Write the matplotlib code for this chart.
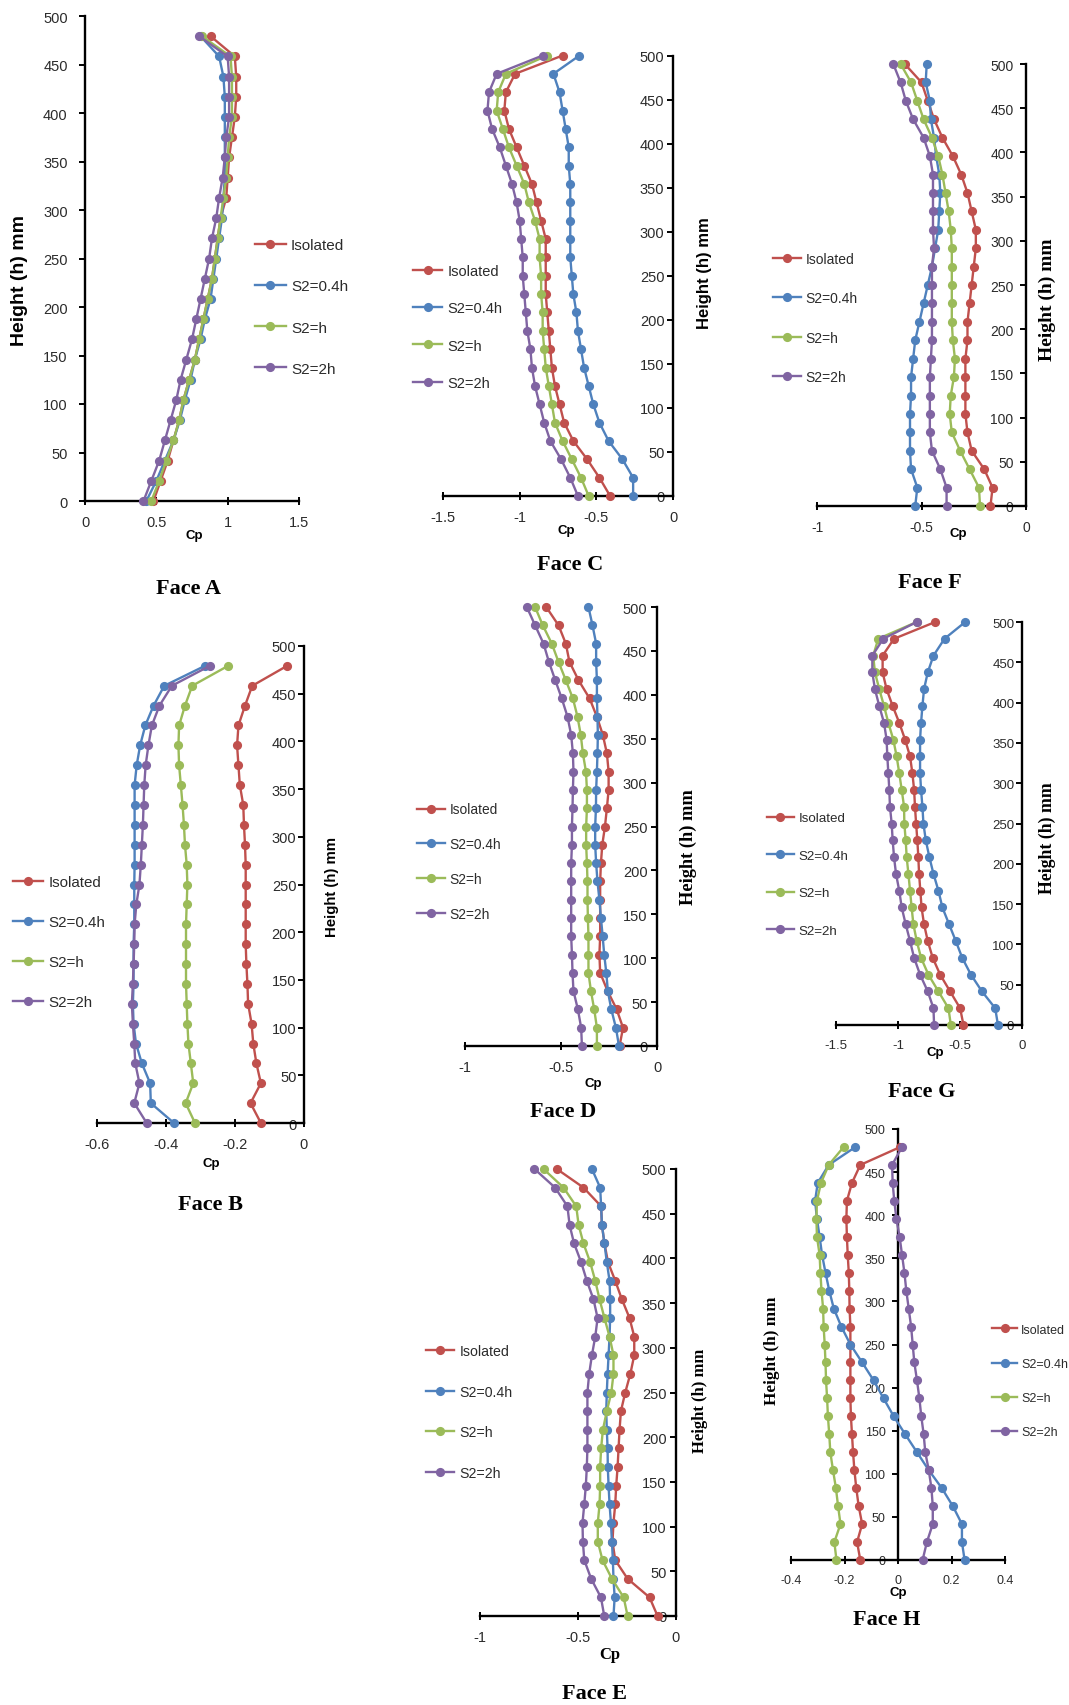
import matplotlib.pyplot as plt

plt.rcParams['font.family'] = 'Liberation Sans'
plt.rcParams['axes.unicode_minus'] = False

# tap heights (mm) along the model, 25 levels
heights = [0, 20.8, 41.7, 62.5, 83.3, 104.2, 125, 145.8, 166.7, 187.5,
           208.3, 229.2, 250, 270.8, 291.7, 312.5, 333.3, 354.2, 375,
           395.8, 416.7, 437.5, 458.3, 479.2, 500]
series_names = ['Isolated', 'S2=0.4h', 'S2=h', 'S2=2h']
colors = ['#C0504D', '#4F81BD', '#9BBB59', '#8064A2']

# Face A (24 levels)
a_iso = [0.48, 0.53, 0.58, 0.62, 0.66, 0.69, 0.73, 0.77, 0.80, 0.83, 0.86, 0.89,
         0.91, 0.93, 0.95, 0.99, 1.0, 1.01, 1.03, 1.05, 1.06, 1.06, 1.05, 0.88]
a_s04 = [0.43, 0.50, 0.56, 0.62, 0.665, 0.70, 0.74, 0.77, 0.81, 0.84, 0.88, 0.90,
         0.92, 0.94, 0.96, 0.97, 0.98, 0.98, 0.98, 0.98, 0.98, 0.97, 0.94, 0.81]
a_s1 = [0.465, 0.52, 0.57, 0.62, 0.66, 0.69, 0.73, 0.77, 0.80, 0.83, 0.86, 0.89,
        0.91, 0.93, 0.95, 0.97, 0.99, 1.0, 1.01, 1.03, 1.03, 1.03, 1.02, 0.82]
a_s2 = [0.41, 0.465, 0.52, 0.56, 0.60, 0.64, 0.67, 0.71, 0.75, 0.78, 0.81, 0.84,
        0.87, 0.89, 0.92, 0.94, 0.965, 0.98, 0.99, 1.01, 1.01, 1.01, 1.0, 0.80]

# Face C
c_iso = [-0.41, -0.48, -0.56, -0.65, -0.71, -0.74, -0.77, -0.79, -0.80, -0.81, -0.82, -0.83, -0.83,
         -0.83, -0.83, -0.86, -0.89, -0.92, -0.97, -1.02, -1.07, -1.10, -1.09, -1.03, -0.72]
c_s04 = [-0.26, -0.26, -0.33, -0.42, -0.48, -0.52, -0.55, -0.58, -0.60, -0.62, -0.63, -0.65, -0.66,
         -0.67, -0.67, -0.67, -0.67, -0.67, -0.68, -0.68, -0.70, -0.72, -0.74, -0.78, -0.61]
c_s1 = [-0.55, -0.60, -0.66, -0.72, -0.77, -0.79, -0.81, -0.83, -0.84, -0.85, -0.85, -0.86, -0.86,
        -0.87, -0.87, -0.90, -0.94, -0.97, -1.02, -1.07, -1.11, -1.15, -1.14, -1.09, -0.82]
c_s2 = [-0.62, -0.67, -0.73, -0.80, -0.84, -0.87, -0.90, -0.92, -0.93, -0.95, -0.96, -0.97, -0.98,
        -0.98, -0.99, -1.00, -1.02, -1.05, -1.09, -1.13, -1.18, -1.21, -1.20, -1.15, -0.85]

# Face F
f_iso = [-0.17, -0.16, -0.20, -0.26, -0.28, -0.29, -0.29, -0.29, -0.29, -0.28, -0.28, -0.27, -0.26,
         -0.25, -0.24, -0.24, -0.26, -0.28, -0.31, -0.35, -0.40, -0.44, -0.47, -0.50, -0.58]
f_s04 = [-0.53, -0.52, -0.55, -0.555, -0.555, -0.555, -0.55, -0.55, -0.54, -0.53, -0.51, -0.49, -0.47,
         -0.45, -0.435, -0.42, -0.415, -0.41, -0.415, -0.43, -0.44, -0.455, -0.46, -0.48, -0.475]
f_s1 = [-0.22, -0.225, -0.27, -0.315, -0.355, -0.365, -0.36, -0.345, -0.34, -0.35, -0.355, -0.355, -0.355,
        -0.355, -0.355, -0.36, -0.37, -0.385, -0.40, -0.42, -0.45, -0.49, -0.52, -0.55, -0.60]
f_s2 = [-0.38, -0.38, -0.41, -0.45, -0.46, -0.46, -0.46, -0.46, -0.455, -0.45, -0.45, -0.45, -0.45,
        -0.45, -0.44, -0.445, -0.445, -0.445, -0.445, -0.46, -0.49, -0.54, -0.575, -0.60, -0.635]

# Face B (24 levels)
b_iso = [-0.125, -0.155, -0.125, -0.138, -0.147, -0.152, -0.162, -0.164, -0.167, -0.169, -0.169, -0.169,
         -0.169, -0.169, -0.171, -0.174, -0.176, -0.186, -0.19, -0.194, -0.19, -0.171, -0.15, -0.049]
b_s04 = [-0.377, -0.444, -0.446, -0.47, -0.487, -0.494, -0.496, -0.494, -0.494, -0.494, -0.492, -0.492,
         -0.492, -0.491, -0.491, -0.491, -0.491, -0.491, -0.485, -0.475, -0.46, -0.436, -0.405, -0.287]
b_s1 = [-0.316, -0.343, -0.321, -0.328, -0.335, -0.338, -0.34, -0.342, -0.342, -0.342, -0.342, -0.34,
        -0.338, -0.34, -0.345, -0.348, -0.352, -0.357, -0.362, -0.364, -0.362, -0.345, -0.324, -0.22]
b_s2 = [-0.456, -0.492, -0.477, -0.489, -0.492, -0.496, -0.499, -0.496, -0.494, -0.492, -0.491, -0.486,
        -0.477, -0.473, -0.47, -0.467, -0.465, -0.463, -0.459, -0.451, -0.441, -0.419, -0.383, -0.273]

# Face D
d_iso = [-0.195, -0.177, -0.21, -0.257, -0.296, -0.30, -0.296, -0.296, -0.296, -0.296, -0.292, -0.285, -0.271,
         -0.261, -0.252, -0.252, -0.261, -0.282, -0.313, -0.351, -0.409, -0.456, -0.475, -0.513, -0.577]
d_s04 = [-0.198, -0.214, -0.238, -0.256, -0.264, -0.275, -0.283, -0.292, -0.30, -0.31, -0.317, -0.322, -0.322,
         -0.318, -0.317, -0.313, -0.31, -0.308, -0.31, -0.313, -0.313, -0.317, -0.317, -0.336, -0.357]
d_s1 = [-0.313, -0.313, -0.327, -0.344, -0.357, -0.357, -0.357, -0.36, -0.362, -0.362, -0.365, -0.369, -0.369,
        -0.365, -0.365, -0.37, -0.386, -0.397, -0.414, -0.438, -0.475, -0.513, -0.548, -0.595, -0.635]
d_s2 = [-0.391, -0.395, -0.412, -0.435, -0.44, -0.443, -0.447, -0.447, -0.447, -0.447, -0.447, -0.443, -0.443,
        -0.44, -0.438, -0.435, -0.438, -0.447, -0.466, -0.496, -0.53, -0.563, -0.591, -0.635, -0.678]

# Face G
g_iso = [-0.472, -0.499, -0.58, -0.66, -0.72, -0.76, -0.79, -0.81, -0.82, -0.83, -0.836, -0.844, -0.854,
         -0.863, -0.87, -0.884, -0.903, -0.943, -0.99, -1.043, -1.092, -1.124, -1.124, -1.032, -0.70]
g_s04 = [-0.194, -0.216, -0.323, -0.412, -0.482, -0.534, -0.588, -0.642, -0.674, -0.714, -0.747, -0.776, -0.795,
         -0.803, -0.814, -0.822, -0.822, -0.822, -0.814, -0.803, -0.79, -0.76, -0.714, -0.625, -0.458]
g_s1 = [-0.574, -0.593, -0.674, -0.755, -0.814, -0.849, -0.876, -0.89, -0.903, -0.916, -0.93, -0.938, -0.949,
        -0.951, -0.97, -0.99, -1.011, -1.038, -1.078, -1.113, -1.151, -1.186, -1.2, -1.159, -0.849]
g_s2 = [-0.709, -0.714, -0.76, -0.822, -0.87, -0.903, -0.938, -0.97, -0.99, -1.016, -1.032, -1.043, -1.051,
        -1.065, -1.07, -1.078, -1.086, -1.092, -1.113, -1.151, -1.186, -1.207, -1.207, -1.119, -0.849]

# Face E
e_iso = [-0.094, -0.135, -0.247, -0.31, -0.324, -0.319, -0.31, -0.305, -0.298, -0.293, -0.288, -0.281, -0.259,
         -0.233, -0.213, -0.213, -0.237, -0.276, -0.31, -0.347, -0.365, -0.378, -0.382, -0.472, -0.608]
e_s04 = [-0.319, -0.313, -0.319, -0.322, -0.327, -0.332, -0.339, -0.344, -0.348, -0.349, -0.353, -0.356, -0.353,
         -0.349, -0.344, -0.339, -0.336, -0.336, -0.339, -0.353, -0.365, -0.378, -0.382, -0.387, -0.429]
e_s1 = [-0.247, -0.267, -0.327, -0.375, -0.399, -0.399, -0.39, -0.387, -0.387, -0.382, -0.373, -0.353, -0.33,
        -0.319, -0.319, -0.339, -0.365, -0.39, -0.412, -0.438, -0.472, -0.497, -0.509, -0.574, -0.676]
e_s2 = [-0.366, -0.383, -0.433, -0.468, -0.475, -0.477, -0.468, -0.46, -0.455, -0.452, -0.452, -0.452, -0.452,
        -0.443, -0.429, -0.412, -0.40, -0.421, -0.455, -0.484, -0.52, -0.543, -0.554, -0.617, -0.722]

# Face H (24 levels)
h_iso = [-0.141, -0.153, -0.134, -0.147, -0.156, -0.163, -0.168, -0.172, -0.176, -0.178, -0.178, -0.178,
         -0.178, -0.178, -0.181, -0.182, -0.184, -0.188, -0.191, -0.193, -0.191, -0.172, -0.141, 0.009]
h_s04 = [0.249, 0.239, 0.239, 0.205, 0.164, 0.115, 0.071, 0.027, -0.016, -0.054, -0.091, -0.134,
         -0.178, -0.212, -0.24, -0.257, -0.271, -0.284, -0.293, -0.303, -0.31, -0.30, -0.259, -0.159]
h_s1 = [-0.23, -0.238, -0.215, -0.224, -0.232, -0.243, -0.253, -0.257, -0.262, -0.265, -0.269, -0.271,
        -0.274, -0.278, -0.28, -0.286, -0.29, -0.293, -0.303, -0.305, -0.303, -0.288, -0.259, -0.203]
h_s2 = [0.092, 0.108, 0.13, 0.13, 0.125, 0.115, 0.102, 0.096, 0.087, 0.08, 0.071, 0.061,
        0.055, 0.049, 0.04, 0.031, 0.024, 0.015, 0.006, -0.006, -0.014, -0.02, -0.022, 0.015]

W, H = 1069, 1706
fig = plt.figure(figsize=(W / 100, H / 100), dpi=100)
txt = '#2b2b2b'


def fxy(x, y):
    return x / W, 1 - y / H


def face(data, name, xlim, xticks, box, tick_fs, ypad, leg, title, cp, ylab):
    x0, x1, yt, yb = box
    ax = fig.add_axes([x0 / W, 1 - yb / H, (x1 - x0) / W, (yb - yt) / H])
    for vals, lab, c in zip(data, series_names, colors):
        ax.plot(vals, heights[:len(vals)], color=c, marker='o', ms=6.6, lw=1.7,
                mew=0, clip_on=False, label=lab, zorder=3)
    ax.set_xlim(*xlim)
    ax.set_ylim(0, 500)
    ax.set_xticks(xticks)
    ax.set_yticks(range(0, 501, 50))
    ax.xaxis.set_major_formatter(lambda v, p: f'{v:g}')
    ax.spines['left'].set_position(('data', 0))
    ax.spines['top'].set_visible(False)
    ax.spines['right'].set_visible(False)
    for s in ('left', 'bottom'):
        ax.spines[s].set_linewidth(1.7)
    ax.patch.set_alpha(0)
    ax.tick_params(axis='y', direction='out', length=4, width=1.4,
                   labelsize=tick_fs, labelcolor=txt, pad=ypad)
    ax.tick_params(axis='x', direction='inout', length=6, width=1.4,
                   labelsize=tick_fs, labelcolor=txt, pad=7)

    lx, ly, lfs, pitch = leg
    fs_px = lfs * 100 / 72
    lg = ax.legend(loc='center left', bbox_to_anchor=fxy(lx, ly), bbox_transform=fig.transFigure,
                   frameon=False, fontsize=lfs, handlelength=2.0, handletextpad=0.35,
                   labelspacing=pitch / fs_px - 0.94, borderpad=0, borderaxespad=0)
    for t in lg.get_texts():
        t.set_color(txt)

    fig.text(*fxy(*title), name, ha='center', va='center',
             family='Liberation Serif', weight='bold', size=16)
    cx, cy, cserif = cp
    fig.text(*fxy(cx, cy), 'Cp', ha='center', va='center', weight='bold',
             family='Liberation Serif' if cserif else 'Liberation Sans',
             size=12 if cserif else 9.5)
    yx, yy, yserif, yfs = ylab
    fig.text(*fxy(yx, yy), 'Height (h) mm', ha='center', va='center', rotation=90,
             weight='bold', family='Liberation Serif' if yserif else 'Liberation Sans', size=yfs)
    return ax


face([a_iso, a_s04, a_s1, a_s2], 'Face A', (0, 1.5), [0, 0.5, 1, 1.5], (85, 299, 17, 502), 10.5, 8.5,
     (255, 308, 11, 41.4), (189, 589), (194, 536, False), (20, 281, False, 14))
face([c_iso, c_s04, c_s1, c_s2], 'Face C', (-1.5, 0), [-1.5, -1, -0.5, 0], (443, 673, 56.5, 497), 10.5, 2.2,
     (413, 328, 10.5, 36.9), (570, 565), (566, 531, False), (705, 273, False, 12))
face([f_iso, f_s04, f_s1, f_s2], 'Face F', (-1, 0), [-1, -0.5, 0], (817, 1026, 65, 507), 10, 5,
     (773, 319, 10, 38.5), (930, 583), (958, 534, False), (1047, 300, True, 14))
face([b_iso, b_s04, b_s1, b_s2], 'Face B', (-0.6, 0), [-0.6, -0.4, -0.2, 0], (97, 304, 647, 1124), 10.5, 1.5,
     (13, 943, 10.9, 40.2), (210, 1205), (211, 1164, False), (332, 887, False, 10.8))
face([d_iso, d_s04, d_s1, d_s2], 'Face D', (-1, 0), [-1, -0.5, 0], (465, 657, 608, 1047), 10.5, 2.9,
     (417, 862.5, 9.9, 33.7), (563, 1112), (593, 1084, False), (688, 847, True, 13.2))
face([g_iso, g_s04, g_s1, g_s2], 'Face G', (-1.5, 0), [-1.5, -1, -0.5, 0], (836, 1022, 623, 1026), 9.5, 1.5,
     (767, 875.5, 9.6, 37.7), (922, 1092), (935, 1053, False), (1047, 838, True, 12.8))
face([e_iso, e_s04, e_s1, e_s2], 'Face E', (-1, 0), [-1, -0.5, 0], (480, 676, 1170, 1617), 10.5, 2.9,
     (426, 1413, 10.2, 40), (595, 1694), (610, 1655, True), (700, 1401, True, 12))
face([h_iso, h_s04, h_s1, h_s2], 'Face H', (-0.4, 0.4), [-0.4, -0.2, 0, 0.2, 0.4], (791, 1005, 1130, 1561), 9, 5,
     (992, 1382, 9, 34), (887, 1620), (898, 1593, False), (772, 1351, True, 12.4))

fig.savefig('out.png', dpi=100)
